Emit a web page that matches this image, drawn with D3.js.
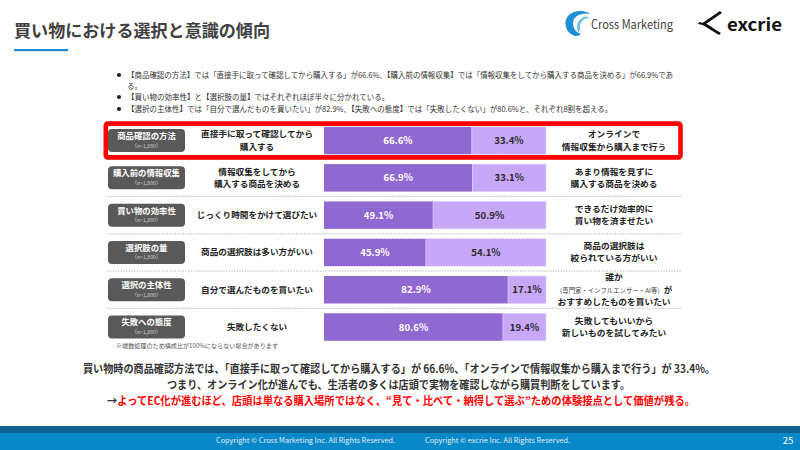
<!DOCTYPE html>
<html><head><meta charset="utf-8">
<script src="https://cdn.jsdelivr.net/npm/d3@7"></script>
<style>
html,body{margin:0;padding:0;background:#fff;}
svg{display:block;}
text{font-family:"Noto Sans CJK JP","Noto Sans",sans-serif;}
</style></head>
<body>
<svg id="c" width="800" height="450"></svg>
<script>
// ---- data ----
const categories = ["商品確認の方法","購入前の情報収集","買い物の効率性","選択肢の量","選択の主体性","失敗への態度"];
const sampleLabels = ["（n=1,800）","（n=1,800）","（n=1,800）","（n=1,800）","（n=1,800）","（n=1,800）"];
const leftValues = [66.6, 66.9, 49.1, 45.9, 82.9, 80.6];
const rightValues = [33.4, 33.1, 50.9, 54.1, 17.1, 19.4];
const leftLabels = [
  ["直接手に取って確認してから","購入する"],
  ["情報収集をしてから","購入する商品を決める"],
  ["じっくり時間をかけて選びたい"],
  ["商品の選択肢は多い方がいい"],
  ["自分で選んだものを買いたい"],
  ["失敗したくない"]
];
const rightLabels = [
  ["オンラインで","情報収集から購入まで行う"],
  ["あまり情報を見ずに","購入する商品を決める"],
  ["できるだけ効率的に","買い物を済ませたい"],
  ["商品の選択肢は","絞られている方がいい"],
  ["誰か","（専門家・インフルエンサー・AI等）|が","おすすめしたものを買いたい"],
  ["失敗してもいいから","新しいものを試してみたい"]
];
const highlightIndex = 0;
const titleText = "買い物における選択と意識の傾向";
const bullets = [
  ["【商品確認の方法】では「直接手に取って確認してから購入する」が66.6%、【購入前の情報収集】では「情報収集をしてから購入する商品を決める」が66.9%であ","る。"],
  ["【買い物の効率性】と【選択肢の量】ではそれぞれほぼ半々に分かれている。"],
  ["【選択の主体性】では「自分で選んだものを買いたい」が82.9%、【失敗への態度】では「失敗したくない」が80.6%と、それぞれ8割を超える。"]
];
const footnote = "※端数処理のため構成比が100%にならない場合があります";
const summary1 = "買い物時の商品確認方法では、「直接手に取って確認してから購入する」が 66.6%、「オンラインで情報収集から購入まで行う」が 33.4%。";
const summary2 = "つまり、オンライン化が進んでも、生活者の多くは店頭で実物を確認しながら購買判断をしています。";
const summary3a = "→";
const summary3b = "よってEC化が進むほど、店頭は単なる購入場所ではなく、“見て・比べて・納得して選ぶ”ための体験接点として価値が残る。";
const copyright1 = "Copyright © Cross Marketing Inc. All Rights Reserved.";
const copyright2 = "Copyright © excrie Inc. All Rights Reserved.";
const pageNo = "25";

// ---- drawing ----
const svg = d3.select("#c");
const DARK = "#9068D2", LIGHT = "#C7A8F8";

// title
svg.append("text").attr("x",14).attr("y",37).attr("font-size",17).attr("font-weight","bold")
  .attr("fill","#404040").attr("textLength",256).attr("lengthAdjust","spacingAndGlyphs").text(titleText);
svg.append("rect").attr("x",14).attr("y",49).attr("width",54).attr("height",2.2).attr("fill","#1a8fd8");

// logos
const lg = svg.append("g");
lg.append("path").attr("d","M575 36 C563 32 562 16 574 12 C582 9 590 13 590 14 C582 12 573 16 573 23 C573 29 577 33 581 34 C579 36 577 36 575 36 Z").attr("fill","#1e8fd6");
lg.append("path").attr("d","M579 33 C575 28 577 20 584 17 C588 16 590 18 590 18 C583 18 579 23 580 28 Z").attr("fill","#6cc0ee");
lg.append("text").attr("x",591).attr("y",29).attr("font-family","DejaVu Sans Condensed").attr("font-size",12.5)
  .attr("fill","#444").attr("textLength",82).attr("lengthAdjust","spacingAndGlyphs").text("Cross Marketing");
lg.append("path").attr("d","M720 11 L701 24 L719 35 L721 33 L706 24 L722 13 Z").attr("fill","#111");
lg.append("path").attr("d","M699 22 C706 23 712 26 716 31 C711 28 705 25 698 24 Z").attr("fill","#111");
lg.append("text").attr("x",727).attr("y",31).attr("font-family","DejaVu Sans").attr("font-weight","bold").attr("font-size",17)
  .attr("fill","#111").attr("textLength",55).attr("lengthAdjust","spacingAndGlyphs").text("excrie");

// bullets
const bulletY = [75, 97, 109];
bullets.forEach((lines, i) => {
  svg.append("circle").attr("cx",119).attr("cy",bulletY[i]).attr("r",2.1).attr("fill","#222");
  lines.forEach((ln, j) => {
    const t = svg.append("text").attr("x",127).attr("y",bulletY[i] + j*11).attr("dy","0.35em")
      .attr("font-size",7.5).attr("fill","#333").text(ln);
    if (i===0 && j===0) t.attr("textLength",546).attr("lengthAdjust","spacingAndGlyphs");
  });
});

// scales
const y = d3.scaleBand().domain(categories).range([121.9, 345.7]).paddingInner(0.263).paddingOuter(0.1315);
const x = d3.scaleLinear().domain([0,100]).range([324, 546]);

// separators
categories.slice(1).forEach(c => {
  const yy = y(c) - (y.step() - y.bandwidth())/2;
  svg.append("line").attr("x1",107).attr("x2",681).attr("y1",yy).attr("y2",yy)
    .attr("stroke","#bdbdbd").attr("stroke-width",1).attr("stroke-dasharray","1.5,1.2");
});

const rows = svg.selectAll("g.row").data(categories).join("g").attr("class","row");
rows.each(function(c, i) {
  const g = d3.select(this);
  const top = y(c), h = y.bandwidth(), cy = top + h/2;
  // category box
  g.append("rect").attr("x",108).attr("y",cy-11.5).attr("width",77).attr("height",23).attr("rx",4).attr("fill","#595959");
  g.append("text").attr("x",146.5).attr("y",cy-4.5).attr("dy","0.35em").attr("text-anchor","middle")
    .attr("font-size",8.4).attr("font-weight","bold").attr("fill","#fff").text(c);
  g.append("text").attr("x",146.5).attr("y",cy+5.2).attr("dy","0.35em").attr("text-anchor","middle")
    .attr("font-size",5.2).attr("fill","#d0d0d0").text(sampleLabels[i]);
  // left statement
  const L = leftLabels[i];
  L.forEach((ln, j) => {
    g.append("text").attr("x",257).attr("y",cy + (j - (L.length-1)/2)*12.2).attr("dy","0.35em")
      .attr("text-anchor","middle").attr("font-size",8.4).attr("font-weight","bold").attr("fill","#222")
      .attr("textLength", ln.length*8.6).attr("lengthAdjust","spacingAndGlyphs").text(ln);
  });
  // bars
  const lv = leftValues[i], rv = rightValues[i];
  g.append("rect").attr("x",x(0)).attr("y",top).attr("width",x(lv)-x(0)).attr("height",h).attr("fill",DARK);
  g.append("rect").attr("x",x(lv)).attr("y",top).attr("width",x(100)-x(lv)).attr("height",h).attr("fill",LIGHT)
    .attr("stroke","#e3d4ff").attr("stroke-width",0.6);
  g.append("text").attr("x",(x(0)+x(lv))/2).attr("y",cy).attr("dy","0.36em").attr("text-anchor","middle")
    .attr("font-family","DejaVu Sans").attr("font-weight","bold").attr("font-size",9.6).attr("fill","#fff").text(lv.toFixed(1)+"%");
  g.append("text").attr("x",(x(lv)+x(100))/2).attr("y",cy).attr("dy","0.36em").attr("text-anchor","middle")
    .attr("font-family","DejaVu Sans").attr("font-weight","bold").attr("font-size",9.6).attr("fill","#2a2a2a").text(rv.toFixed(1)+"%");
  // right statement
  const R = rightLabels[i];
  R.forEach((ln, j) => {
    const t = g.append("text").attr("x",614).attr("y",cy + (j - (R.length-1)/2)*12.2).attr("dy","0.35em")
      .attr("text-anchor","middle").attr("font-size",8.4).attr("font-weight","bold").attr("fill","#222");
    if (ln.includes("|")) {
      const [a,b] = ln.split("|");
      t.append("tspan").attr("font-size",6.4).attr("font-weight","normal").attr("fill","#444").text(a);
      t.append("tspan").attr("font-size",8.4).text(b);
    } else {
      t.attr("textLength", ln.length*8.7).attr("lengthAdjust","spacingAndGlyphs").text(ln);
    }
  });
});

// highlight box
const hc = categories[highlightIndex];
svg.append("rect").attr("x",105.8).attr("y",y(hc)-3.2).attr("width",574.7).attr("height",y.bandwidth()+6.3)
  .attr("rx",2).attr("fill","none").attr("stroke","#ff0000").attr("stroke-width",4.6);

// footnote
svg.append("text").attr("x",116).attr("y",346).attr("dy","0.35em").attr("font-size",6).attr("fill","#555")
  .attr("textLength",162).attr("lengthAdjust","spacingAndGlyphs").text(footnote);

// summary
svg.append("text").attr("x",83).attr("y",369).attr("dy","0.35em").attr("font-size",11).attr("font-weight","bold")
  .attr("fill","#333").attr("textLength",632).attr("lengthAdjust","spacingAndGlyphs").text(summary1);
svg.append("text").attr("x",167).attr("y",385.5).attr("dy","0.35em").attr("font-size",11).attr("font-weight","bold")
  .attr("fill","#333").attr("textLength",463).attr("lengthAdjust","spacingAndGlyphs").text(summary2);
const s3 = svg.append("text").attr("x",107).attr("y",401).attr("dy","0.35em").attr("font-size",11).attr("font-weight","bold")
  .attr("textLength",588).attr("lengthAdjust","spacingAndGlyphs");
s3.append("tspan").attr("fill","#333").text(summary3a);
s3.append("tspan").attr("fill","#ff0000").text(summary3b);

// footer
svg.append("rect").attr("x",0).attr("y",426).attr("width",800).attr("height",24).attr("fill","#0788c9");
svg.append("rect").attr("x",0).attr("y",426).attr("width",800).attr("height",7).attr("fill","#10608f");
svg.append("text").attr("x",216).attr("y",441).attr("dy","0.35em").attr("font-family","Open Sans").attr("font-size",7)
  .attr("fill","#e6eef5").attr("textLength",179).attr("lengthAdjust","spacingAndGlyphs").text(copyright1);
svg.append("text").attr("x",425).attr("y",441).attr("dy","0.35em").attr("font-family","Open Sans").attr("font-size",7)
  .attr("fill","#e6eef5").attr("textLength",145).attr("lengthAdjust","spacingAndGlyphs").text(copyright2);
svg.append("text").attr("x",788).attr("y",441).attr("dy","0.35em").attr("text-anchor","middle").attr("font-family","Open Sans")
  .attr("font-size",9.5).attr("fill","#fff").text(pageNo);
</script>
</body></html>
